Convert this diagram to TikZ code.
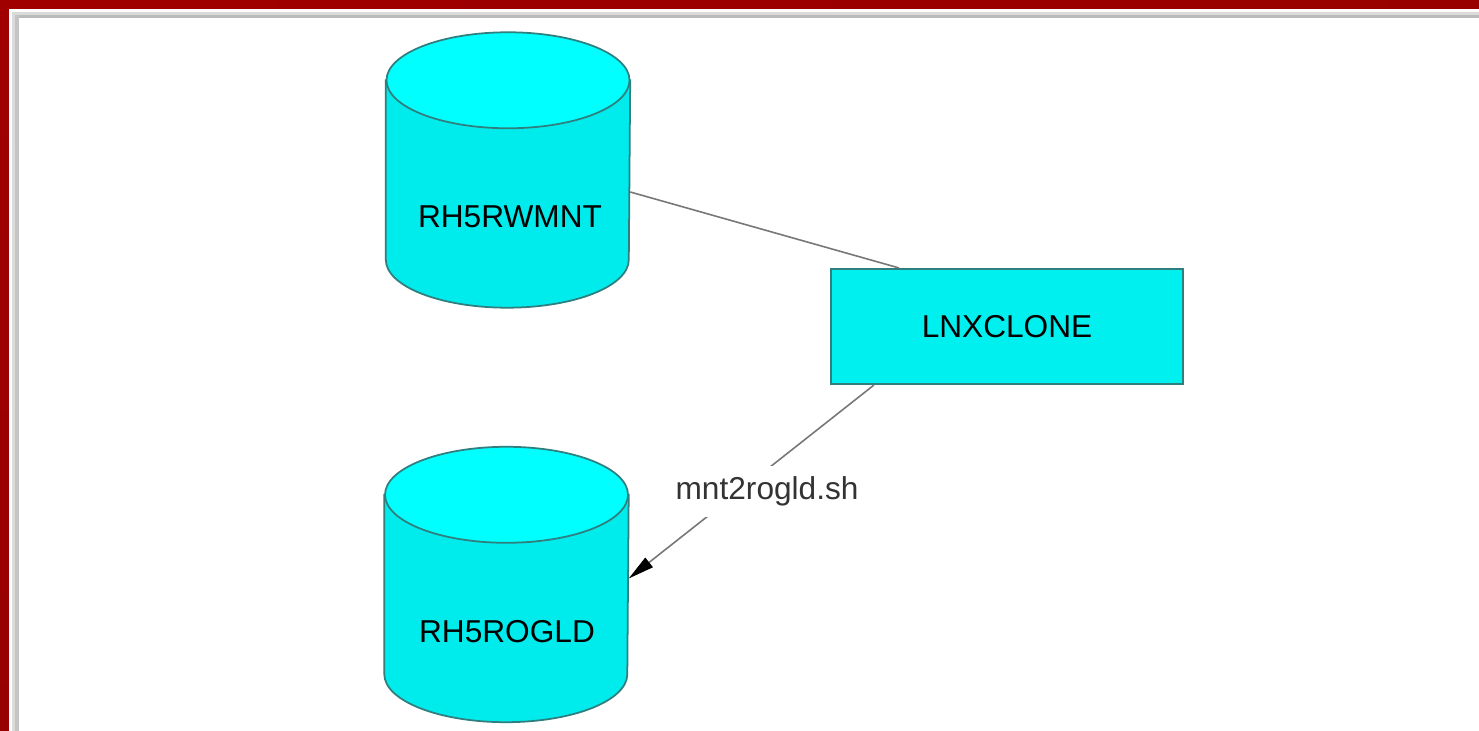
\documentclass[tikz,border=0pt]{standalone}
\usepackage{fontspec}
\setmainfont{Liberation Sans}
\usetikzlibrary{arrows.meta}

\definecolor{cylcap}{HTML}{00FFFF}
\definecolor{cylbody}{HTML}{00ECEC}
\definecolor{boxfill}{HTML}{00F0F0}
\definecolor{edgeteal}{HTML}{2F7F7F}
\definecolor{linkgray}{HTML}{777777}
\definecolor{bandleft}{HTML}{A00000}
\definecolor{bandred}{HTML}{C40000}
\definecolor{banddark}{HTML}{980000}

\tikzset{
    dbstore/.style={rectangle, minimum width=2.43cm, minimum height=2.74cm, inner sep=0pt},
    dbname/.style={font=\fontsize{9}{11}\selectfont},
    jobbox/.style={rectangle, draw=edgeteal, line width=0.6pt, fill=boxfill,
        minimum width=3.52cm, minimum height=1.15cm,
        font=\fontsize{9}{11}\selectfont},
    link/.style={draw=linkgray, line width=0.45pt},
}

% drum outline round a dbstore node
\newcommand{\dbdrum}[1]{%
    \path[fill=cylbody, draw=edgeteal, line width=0.5pt]
        ([yshift=-0.48cm]#1.north west) -- ([yshift=0.48cm]#1.south west)
        arc[start angle=180, end angle=360, x radius=1.215cm, y radius=0.48cm]
        -- ([yshift=-0.48cm]#1.north east) -- cycle;
    \path[fill=cylcap, draw=edgeteal, line width=0.5pt]
        ([yshift=-0.48cm]#1.north) ellipse [x radius=1.215cm, y radius=0.48cm];
}

\begin{document}
\begin{tikzpicture}

        \useasboundingbox (0,0) rectangle (14.79,7.31);
        \fill[white] (0,0) rectangle (14.79,7.31);

        % window frame
        \shade[left color=bandleft, middle color=bandred, right color=banddark] (0,7.22) rectangle (14.79,7.31);
        \shade[top color=bandleft, bottom color=banddark] (0,0) rectangle (0.09,7.31);
        \fill[black!14] (0.12,7.19) rectangle (14.79,7.16);
        \fill[black!27] (0.15,7.16) rectangle (14.79,7.13);
        \fill[black!14] (0.12,0) rectangle (0.15,7.19);
        \fill[black!23] (0.15,0) rectangle (0.19,7.16);

        \node[dbstore] (rwmnt) at (5.08,5.61) {};
        \node[dbstore] (rogld) at (5.065,1.465) {};
        \dbdrum{rwmnt}
        \dbdrum{rogld}
        \node[dbname] (rwmntname) at (5.10,5.14) {RH5RWMNT};
        \node[dbname] (rogldname) at (5.07,0.99) {RH5ROGLD};

        \node[jobbox] (lnx) at (10.07,4.045) {LNXCLONE};

        \draw[link] ([yshift=-0.22cm]rwmnt.east) -- ([xshift=0.69cm]lnx.north west);
        \draw[link, -{Triangle[length=2.6mm,width=1.2mm,black]}] ([xshift=0.44cm]lnx.south west) -- ([yshift=0.06cm]rogld.east)
            node[pos=0.55, xshift=0.28cm, fill=white, inner sep=3pt, text=black!80, font=\fontsize{9}{11}\selectfont] (script) {mnt2rogld.sh};

\end{tikzpicture}
\end{document}
